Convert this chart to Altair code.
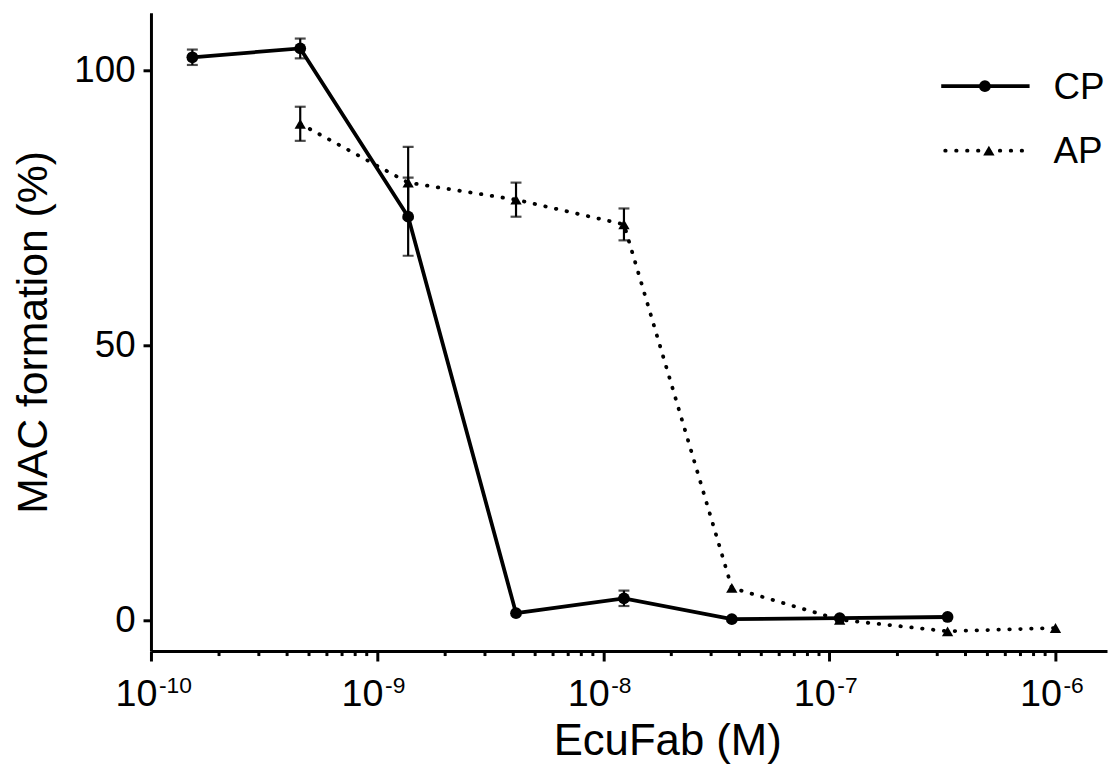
import altair as alt
import pandas as pd

# ---- data ----
cp_conc = [1.524e-10, 4.572e-10, 1.372e-9, 4.115e-9, 1.235e-8, 3.704e-8, 1.111e-7, 3.333e-7]
cp_val = [102.4, 104.0, 73.4, 1.3, 4.0, 0.2, 0.4, 0.6]
cp_err = [1.4, 1.8, 7.1, 0.0, 1.4, 0.0, 0.0, 0.0]

ap_conc = [4.572e-10, 1.372e-9, 4.115e-9, 1.235e-8, 3.704e-8, 1.111e-7, 3.333e-7, 1.0e-6]
ap_val = [90.3, 79.6, 76.5, 72.0, 5.9, 0.1, -2.0, -1.4]
ap_err = [3.1, 6.5, 3.1, 2.9, 0.0, 0.0, 0.0, 0.0]

major_ticks = [1e-10, 1e-9, 1e-8, 1e-7, 1e-6]
major_exp = ["-10", "-9", "-8", "-7", "-6"]
minor_ticks = [m * 10.0 ** e for e in (-10, -9, -8, -7) for m in range(2, 10)]
y_ticks = [0, 50, 100]

legend_labels = ["CP", "AP"]

FONT = "Liberation Sans"
W, H = 963, 643
x_dom = [1e-10, 1.69e-6]
y_dom = [-5.6, 110.5]

cp = pd.DataFrame({"conc": cp_conc, "val": cp_val, "err": cp_err})
cp["lo"] = cp["val"] - cp["err"]
cp["hi"] = cp["val"] + cp["err"]
ap = pd.DataFrame({"conc": ap_conc, "val": ap_val, "err": ap_err})
ap["lo"] = ap["val"] - ap["err"]
ap["hi"] = ap["val"] + ap["err"]
cp_e = cp[cp["err"] > 0]
ap_e = ap[ap["err"] > 0]

xs = alt.Scale(type="log", domain=x_dom, nice=False)
ys = alt.Scale(domain=y_dom, nice=False, zero=False)

x_axis = alt.Axis(
    values=major_ticks, labelExpr="'10'", title="EcuFab (M)",
    labelFont=FONT, labelFontSize=38, labelColor="black",
    labelAlign="right", labelOffset=6, labelBaseline="alphabetic", labelPadding=45,
    tickSize=10, tickWidth=3, tickColor="black",
    domainColor="black", domainWidth=3, grid=False,
    titleFont=FONT, titleFontSize=44, titleFontWeight="normal", titleColor="black",
    titleX=520, titleY=104, titleBaseline="alphabetic", titleAnchor="middle", titleAlign="center",
)
y_axis = alt.Axis(
    values=y_ticks, title="MAC formation (%)",
    labelFont=FONT, labelFontSize=37, labelColor="black", labelPadding=8,
    tickSize=8, tickWidth=3, tickColor="black",
    domainColor="black", domainWidth=3, grid=False,
    titleFont=FONT, titleFontSize=43, titleFontWeight="normal", titleColor="black",
    titleX=-105, titleBaseline="alphabetic",
)

base_cp = alt.Chart(cp)
base_ap = alt.Chart(ap)

cp_line = base_cp.mark_line(color="black", strokeWidth=3.8).encode(
    x=alt.X("conc:Q", scale=xs, axis=x_axis),
    y=alt.Y("val:Q", scale=ys, axis=y_axis),
)
cp_pts = base_cp.mark_point(shape="circle", filled=True, color="black", size=140, opacity=1).encode(
    x=alt.X("conc:Q", scale=xs), y=alt.Y("val:Q", scale=ys))
ap_line = base_ap.mark_line(color="black", strokeWidth=3.8, strokeDash=[0.5, 10.5], strokeCap="round").encode(
    x=alt.X("conc:Q", scale=xs), y=alt.Y("val:Q", scale=ys))
ap_pts = base_ap.mark_point(shape="triangle-up", filled=True, color="black", size=130, opacity=1).encode(
    x=alt.X("conc:Q", scale=xs), y=alt.Y("val:Q", scale=ys))


def errbars(df):
    b = alt.Chart(df)
    r = b.mark_rule(color="black", strokeWidth=2.2).encode(
        x=alt.X("conc:Q", scale=xs), y=alt.Y("lo:Q", scale=ys), y2="hi:Q")
    t1 = b.mark_tick(color="black", orient="horizontal", size=11, thickness=2.2).encode(
        x=alt.X("conc:Q", scale=xs), y=alt.Y("lo:Q", scale=ys))
    t2 = b.mark_tick(color="black", orient="horizontal", size=11, thickness=2.2).encode(
        x=alt.X("conc:Q", scale=xs), y=alt.Y("hi:Q", scale=ys))
    return r + t1 + t2


minor = alt.Chart(pd.DataFrame({"t": minor_ticks})).mark_rule(color="black", strokeWidth=3).encode(
    x=alt.X("t:Q", scale=xs), y=alt.value(H), y2=alt.value(H + 5))

exps = alt.Chart(pd.DataFrame({"t": major_ticks, "e": major_exp})).mark_text(
    font=FONT, fontSize=23, align="left", baseline="alphabetic", dx=8, color="black"
).encode(x=alt.X("t:Q", scale=xs), y=alt.value(H + 42), text="e:N")

# legend
one = pd.DataFrame({"a": [0]})
leg_cp_line = alt.Chart(one).mark_rule(color="black", strokeWidth=3.8).encode(
    x=alt.value(796), x2=alt.value(885), y=alt.value(74))
leg_cp_pt = alt.Chart(one).mark_point(shape="circle", filled=True, color="black", size=140, opacity=1).encode(
    x=alt.value(840), y=alt.value(74))
leg_ap_line = alt.Chart(one).mark_rule(color="black", strokeWidth=3.8, strokeDash=[0.5, 10.5], strokeCap="round").encode(
    x=alt.value(800), x2=alt.value(883), y=alt.value(139))
leg_ap_pt = alt.Chart(one).mark_point(shape="triangle-up", filled=True, color="black", size=130, opacity=1).encode(
    x=alt.value(844), y=alt.value(139))
leg_text = alt.Chart(pd.DataFrame({"lab": legend_labels, "yy": [87, 151]})).mark_text(
    font=FONT, fontSize=37, align="left", baseline="alphabetic", color="black"
).encode(x=alt.value(909), y=alt.Y("yy:Q", scale=None), text="lab:N")

chart = alt.layer(
    cp_line, ap_line, errbars(cp_e), errbars(ap_e), cp_pts, ap_pts, minor, exps,
    leg_cp_line, leg_cp_pt, leg_ap_line, leg_ap_pt, leg_text,
).properties(
    width=W, height=H,
    autosize=alt.AutoSizeParams(type="none"),
    padding={"left": 144, "top": 2, "right": 2, "bottom": 113},
    background="white",
).configure_view(stroke=None)

chart.save("out.html", embed_options={"renderer": "svg", "actions": False})
